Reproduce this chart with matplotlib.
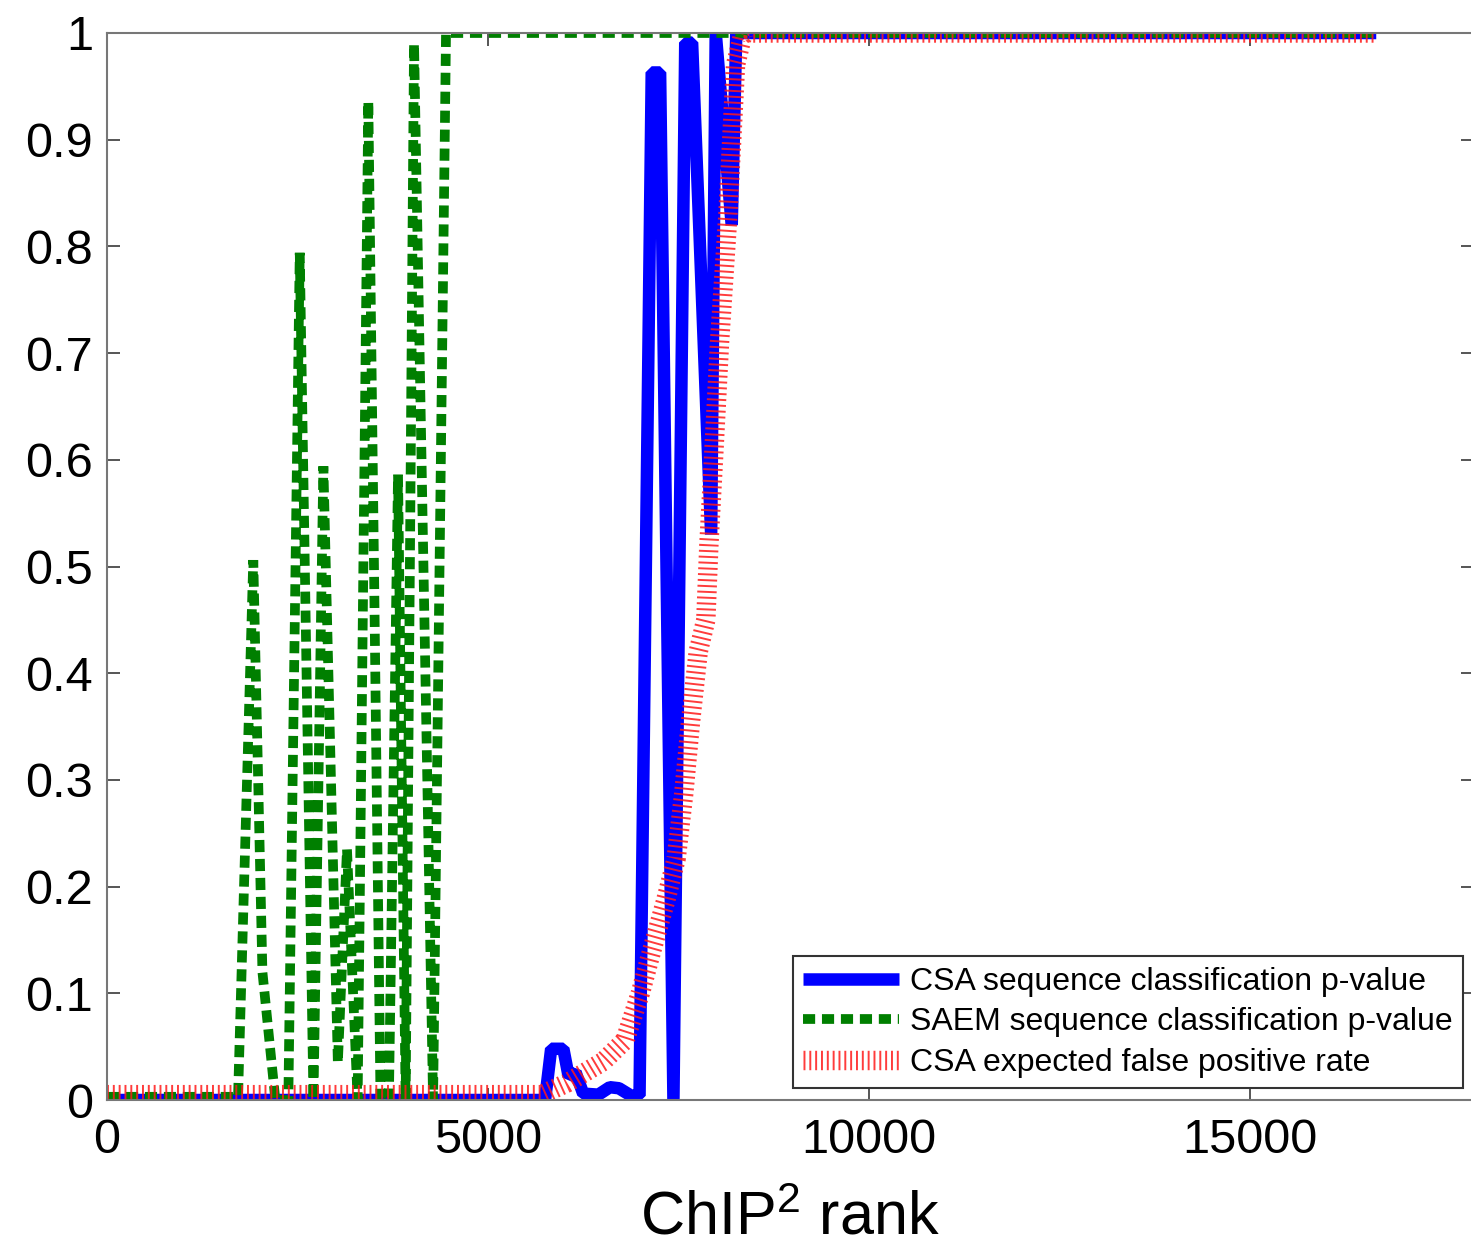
import matplotlib.pyplot as plt
import numpy as np

plt.rcParams['font.family'] = ['Liberation Sans', 'DejaVu Sans']
plt.rcParams['mathtext.fontset'] = 'custom'
plt.rcParams['mathtext.rm'] = 'Liberation Sans'
plt.rcParams['mathtext.it'] = 'Liberation Sans:italic'

# values (ChIP^2 rank vs. p-value / rate)
csa_rank = [0, 5750, 5830, 5990, 6060, 6150, 6250, 6450, 6600, 6720, 6880, 6990,
            7150, 7260, 7435, 7590, 7680, 7930, 7990, 8200, 8260, 16660]
csa_pval = [0, 0, 0.048, 0.048, 0.022, 0.026, 0.006, 0.005, 0.012, 0.011, 0.004, 0.004,
            0.963, 0.963, 0.0, 0.991, 0.991, 0.53, 1.0, 0.82, 1.0, 1.0]

saem_rank = [0, 1720, 1920, 2040, 2210, 2380, 2530, 2710, 2840, 3030, 3150, 3290,
             3430, 3590, 3700, 3820, 3920, 4030, 4280, 4450, 16660]
saem_pval = [0.003, 0.003, 0.506, 0.12, 0.0, 0.0, 0.794, 0.0, 0.594, 0.035, 0.235, 0.0,
             0.936, 0.0, 0.0, 0.586, 0.0, 0.99, 0.0, 1.0, 1.0]

fpr_rank = [0, 5700, 6040, 6510, 6800, 7000, 7150, 7330, 7470, 7570, 7660, 7760,
            7860, 7900, 7960, 8040, 8150, 8250, 8350, 16660]
fpr_val = [0.005, 0.005, 0.016, 0.036, 0.056, 0.10, 0.14, 0.186, 0.226, 0.287, 0.355, 0.42,
           0.45, 0.52, 0.60, 0.71, 0.83, 0.97, 1.0, 1.0]

labels = ['CSA sequence classification p-value',
          'SAEM sequence classification p-value',
          'CSA expected false positive rate']

yticks = np.round(np.arange(0, 1.01, 0.1), 1)
ytick_labels = ['0', '0.1', '0.2', '0.3', '0.4', '0.5', '0.6', '0.7', '0.8', '0.9', '1']
xticks = [0, 5000, 10000, 15000]

fig = plt.figure(figsize=(14.71, 12.5), dpi=100)
ax = fig.add_axes([107 / 1471, 150 / 1250, 1366 / 1471, 1067 / 1250])

ax.plot(csa_rank, csa_pval, color='#0000ff', lw=9,
        solid_joinstyle='bevel', solid_capstyle='butt', label=labels[0])
ax.plot(saem_rank, saem_pval, color='#007f00', lw=7, dashes=(1.25, 0.7),
        dash_joinstyle='bevel', dash_capstyle='butt', label=labels[1])
ax.plot(fpr_rank, fpr_val, color='#ff1a1a', lw=14, dashes=(0.1, 0.2), alpha=0.85,
        dash_joinstyle='bevel', dash_capstyle='butt', label=labels[2])

ax.set_xlim(0, 17930)
ax.set_ylim(0, 1)
ax.set_xticks(xticks)
ax.set_xticklabels([str(t) for t in xticks])
ax.set_yticks(yticks)
ax.set_yticklabels(ytick_labels)

ax.tick_params(direction='in', length=9, width=1.4, color='#555555',
               labelcolor='black', labelsize=35, top=True, right=True)
ax.tick_params(axis='y', pad=10)
ax.tick_params(axis='x', pad=13)
for s in ax.spines.values():
    s.set_color('#777777')
    s.set_linewidth(1.5)

ax.set_xlabel('ChIP$^2$ rank', fontsize=44, labelpad=20)

leg = ax.legend(loc='lower right', bbox_to_anchor=(1463 / 1471, 1 - 1088 / 1250),
                bbox_transform=fig.transFigure, fontsize=23, frameon=True,
                fancybox=False, edgecolor='#333333', framealpha=1, borderaxespad=0,
                handlelength=3.0, handletextpad=0.35, labelspacing=0.33, borderpad=0.32)
leg.get_frame().set_linewidth(1.5)

fig.savefig('out.png', dpi=100)
